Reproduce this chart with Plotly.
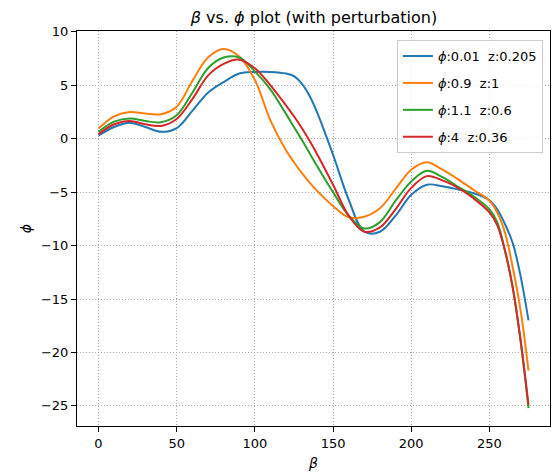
import plotly.graph_objects as go

beta = [0, 10, 20, 30, 40, 50, 60, 70, 80, 90, 100, 110, 120, 125, 130, 135, 140, 150, 160,
        170, 180, 190, 200, 210, 220, 230, 240, 250, 255, 260, 265, 270, 275]

phi_001 = [0.3, 1.1, 1.5, 1.1, 0.65, 1.0, 2.6, 4.3, 5.3, 6.1, 6.25, 6.25, 6.1, 5.85, 5.15, 4.0,
           2.4, -1.5, -5.7, -8.7, -8.7, -7.2, -5.25, -4.3, -4.45, -4.75, -5.1, -5.75, -6.6,
           -8.0, -9.8, -12.9, -17.0]
phi_09 = [0.95, 2.1, 2.5, 2.35, 2.3, 3.0, 5.4, 7.6, 8.4, 7.7, 5.5, 1.7, -1.1, -2.2, -3.2,
          -4.1, -4.9, -6.3, -7.35, -7.3, -6.5, -4.7, -2.9, -2.2, -2.9, -3.8, -4.8, -5.8,
          -6.9, -8.8, -12.1, -16.1, -21.7]
phi_11 = [0.65, 1.6, 1.9, 1.65, 1.55, 2.2, 4.3, 6.6, 7.6, 7.6, 6.3, 4.6, 2.3, 1.1, -0.1,
          -1.35, -2.6, -5.0, -7.2, -8.4, -7.8, -5.8, -4.0, -3.0, -3.6, -4.5, -5.4, -6.6,
          -7.8, -10.5, -14.0, -19.0, -25.2]
phi_4 = [0.43, 1.35, 1.67, 1.35, 1.2, 1.85, 3.7, 5.9, 7.0, 7.4, 6.6, 5.0, 3.1, 2.1, 1.0,
         -0.2, -1.5, -4.3, -7.2, -8.7, -8.3, -6.6, -4.6, -3.5, -3.9, -4.6, -5.6, -6.9,
         -8.1, -10.5, -14.0, -18.9, -24.9]

names = ["<i>ϕ</i>:0.01\u00a0\u00a0z:0.205", "<i>ϕ</i>:0.9\u00a0\u00a0z:1",
         "<i>ϕ</i>:1.1\u00a0\u00a0z:0.6", "<i>ϕ</i>:4\u00a0\u00a0z:0.36"]
series = [phi_001, phi_09, phi_11, phi_4]
colors = ["#1f77b4", "#ff7f0e", "#2ca02c", "#d62728"]

fig = go.Figure()
for i, (nm, ys, c) in enumerate(zip(names, series, colors)):
    fig.add_trace(go.Scatter(x=beta, y=ys, mode="lines", name=nm,
                             legendgroup=f"g{i}",
                             line=dict(color=c, width=2, shape="spline", smoothing=1.0)))

axis_common = dict(
    showline=True, mirror=True, linecolor="#000000", linewidth=1,
    ticks="outside", ticklen=5, tickwidth=1, tickcolor="#000000",
    showgrid=True, gridcolor="#a8a8a8", griddash="1px,2px", gridwidth=1,
    zeroline=False, tickfont=dict(family="DejaVu Sans", size=13, color="#000000"),
)

fig.update_layout(
    width=557, height=474,
    margin=dict(l=77, r=6, t=31, b=45),
    paper_bgcolor="white", plot_bgcolor="white",
    font=dict(family="DejaVu Sans", color="#000000"),
    title=dict(text="<i>β</i> vs. <i>ϕ</i> plot (with perturbation)",
               x=(77 + 551) / 2 / 557, xanchor="center", xref="container",
               y=1 - 17 / 474, yanchor="middle", yref="container",
               font=dict(family="DejaVu Sans", size=16, color="#000000")),
    xaxis=dict(range=[-13.75, 288.75], tickvals=[0, 50, 100, 150, 200, 250],
               title=dict(text="<i>β</i>", font=dict(size=14), standoff=8), **axis_common),
    yaxis=dict(range=[-26.88, 10.08], tickvals=[10, 5, 0, -5, -10, -15, -20, -25],
               title=dict(text="<i>ϕ</i>", font=dict(size=14), standoff=6), **axis_common),
    legend=dict(x=0.985, y=0.977, xanchor="right", yanchor="top",
                bgcolor="rgba(255,255,255,0.8)", bordercolor="#cccccc", borderwidth=1,
                font=dict(family="DejaVu Sans", size=13, color="#000000"),
                traceorder="grouped", tracegroupgap=7),
    showlegend=True,
)

fig.write_html("out.html")
